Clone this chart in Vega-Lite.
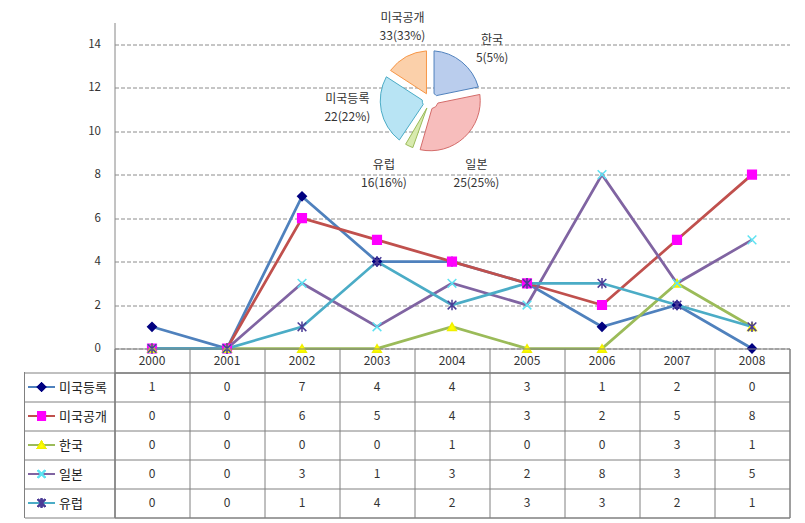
{
  "$schema": "https://vega.github.io/schema/vega-lite/v6.json",
  "background": "white",
  "padding": {"left": 22.5, "top": 11.5, "right": 16.5, "bottom": 5.5},
  "config": {
    "font": "Noto Sans CJK KR",
    "axis": {"labelFont": "Noto Sans CJK KR", "labelColor": "#333333", "title": null},
    "text": {"font": "Noto Sans CJK KR"}
  },
  "datasets": {
    "patents": [
      {"series": "미국등록", "year": 2000, "count": 1},
      {"series": "미국등록", "year": 2001, "count": 0},
      {"series": "미국등록", "year": 2002, "count": 7},
      {"series": "미국등록", "year": 2003, "count": 4},
      {"series": "미국등록", "year": 2004, "count": 4},
      {"series": "미국등록", "year": 2005, "count": 3},
      {"series": "미국등록", "year": 2006, "count": 1},
      {"series": "미국등록", "year": 2007, "count": 2},
      {"series": "미국등록", "year": 2008, "count": 0},
      {"series": "미국공개", "year": 2000, "count": 0},
      {"series": "미국공개", "year": 2001, "count": 0},
      {"series": "미국공개", "year": 2002, "count": 6},
      {"series": "미국공개", "year": 2003, "count": 5},
      {"series": "미국공개", "year": 2004, "count": 4},
      {"series": "미국공개", "year": 2005, "count": 3},
      {"series": "미국공개", "year": 2006, "count": 2},
      {"series": "미국공개", "year": 2007, "count": 5},
      {"series": "미국공개", "year": 2008, "count": 8},
      {"series": "한국", "year": 2000, "count": 0},
      {"series": "한국", "year": 2001, "count": 0},
      {"series": "한국", "year": 2002, "count": 0},
      {"series": "한국", "year": 2003, "count": 0},
      {"series": "한국", "year": 2004, "count": 1},
      {"series": "한국", "year": 2005, "count": 0},
      {"series": "한국", "year": 2006, "count": 0},
      {"series": "한국", "year": 2007, "count": 3},
      {"series": "한국", "year": 2008, "count": 1},
      {"series": "일본", "year": 2000, "count": 0},
      {"series": "일본", "year": 2001, "count": 0},
      {"series": "일본", "year": 2002, "count": 3},
      {"series": "일본", "year": 2003, "count": 1},
      {"series": "일본", "year": 2004, "count": 3},
      {"series": "일본", "year": 2005, "count": 2},
      {"series": "일본", "year": 2006, "count": 8},
      {"series": "일본", "year": 2007, "count": 3},
      {"series": "일본", "year": 2008, "count": 5},
      {"series": "유럽", "year": 2000, "count": 0},
      {"series": "유럽", "year": 2001, "count": 0},
      {"series": "유럽", "year": 2002, "count": 1},
      {"series": "유럽", "year": 2003, "count": 4},
      {"series": "유럽", "year": 2004, "count": 2},
      {"series": "유럽", "year": 2005, "count": 3},
      {"series": "유럽", "year": 2006, "count": 3},
      {"series": "유럽", "year": 2007, "count": 2},
      {"series": "유럽", "year": 2008, "count": 1}
    ],
    "pie": [
      {"series": "미국등록", "total": 22, "tag": "한국\n5(5%)"},
      {"series": "미국공개", "total": 33, "tag": "일본\n25(25%)"},
      {"series": "한국", "total": 5, "tag": "유럽\n16(16%)"},
      {"series": "일본", "total": 25, "tag": "미국등록\n22(22%)"},
      {"series": "유럽", "total": 16, "tag": "미국공개\n33(33%)"}
    ]
  },
  "spacing": 0,
  "bounds": "flush",
  "vconcat": [
    {
      "width": 675,
      "height": 326,
      "view": {"stroke": null},
      "layer": [
        {
          "data": {"name": "patents"},
          "mark": {"type": "line", "strokeWidth": 2.75},
          "encoding": {
            "x": {"field": "year", "type": "quantitative", "scale": {"domain": [1999.5, 2008.5], "nice": false, "zero": false}, "axis": null},
            "y": {"field": "count", "type": "quantitative", "scale": {"domain": [0, 15], "nice": false, "zero": false},
              "axis": {"values": [0, 2, 4, 6, 8, 10, 12, 14], "grid": true, "gridDash": [4, 2], "gridColor": "#8c8c8c", "domainColor": "#868686", "ticks": false, "labelPadding": 14, "labelFontSize": 11.5, "title": null}},
            "color": {"field": "series", "type": "nominal", "legend": null,
              "scale": {"domain": ["미국등록", "미국공개", "한국", "일본", "유럽"], "range": ["#4F81BD", "#C0504D", "#9BBB59", "#8064A2", "#4BACC6"]}}
          }
        },
        {
          "data": {"name": "patents"},
          "mark": {"type": "point", "size": 75, "strokeWidth": 1.5, "opacity": 1},
          "encoding": {
            "x": {"field": "year", "type": "quantitative", "axis": null},
            "y": {"field": "count", "type": "quantitative", "title": null},
            "shape": {"field": "series", "type": "nominal", "legend": null,
              "scale": {"domain": ["미국등록", "미국공개", "한국", "일본", "유럽"], "range": ["diamond", "square", "triangle-up", "M-1,-1L1,1M-1,1L1,-1", "M0,-1.2L0,1.2M-1,-1L1,1M-1,1L1,-1"]}},
            "fill": {"field": "series", "type": "nominal", "legend": null,
              "scale": {"domain": ["미국등록", "미국공개", "한국", "일본", "유럽"], "range": ["#000080", "#FF00FF", "#FFFF00", "transparent", "transparent"]}},
            "stroke": {"field": "series", "type": "nominal", "legend": null,
              "scale": {"domain": ["미국등록", "미국공개", "한국", "일본", "유럽"], "range": ["#000080", "#FF00FF", "#F0F000", "#5EE3F2", "#4B3C96"]}}
          }
        },
        {
          "data": {"name": "pie"},
          "transform": [{"window": [{"op": "row_number", "as": "rank"}]}],
          "mark": {"type": "arc", "outerRadius": 50, "innerRadius": 8, "padAngle": 0.15, "strokeWidth": 1},
          "encoding": {
            "x": {"datum": 2003.71, "type": "quantitative", "axis": null},
            "y": {"datum": 11.4, "type": "quantitative", "title": null},
            "theta": {"field": "total", "type": "quantitative", "stack": true},
            "order": {"field": "rank", "type": "quantitative"},
            "fill": {"field": "series", "type": "nominal", "legend": null,
              "scale": {"domain": ["미국등록", "미국공개", "한국", "일본", "유럽"], "range": ["#BACDED", "#F7BDBC", "#D8EAAE", "#B8E4F4", "#FBD0AA"]}},
            "stroke": {"field": "series", "type": "nominal", "legend": null,
              "scale": {"domain": ["미국등록", "미국공개", "한국", "일본", "유럽"], "range": ["#4F81BD", "#D46C6A", "#9BBB59", "#4BACC6", "#F79646"]}}
          }
        },
        {
          "data": {"name": "pie"},
          "transform": [{"window": [{"op": "row_number", "as": "rank"}]}],
          "mark": {"type": "text", "radius": 83, "dy": -5, "fontSize": 12, "lineBreak": "\n", "lineHeight": 18, "color": "#333333"},
          "encoding": {
            "x": {"datum": 2003.71, "type": "quantitative", "axis": null},
            "y": {"datum": 11.4, "type": "quantitative", "title": null},
            "theta": {"field": "total", "type": "quantitative", "stack": true, "scale": {"range": [0.157, 6.44]}},
            "order": {"field": "rank", "type": "quantitative"},
            "text": {"field": "tag", "type": "nominal"}
          }
        }
      ],
      "resolve": {"scale": {"fill": "independent", "stroke": "independent", "color": "independent", "shape": "independent", "theta": "independent"}}
    },
    {
      "width": 675,
      "height": 24,
      "view": {"stroke": "#808080"},
      "data": {"name": "patents"},
      "transform": [{"aggregate": [{"op": "count", "as": "n"}], "groupby": ["year"]}],
      "mark": {"type": "text", "fontSize": 12, "color": "#333333"},
      "encoding": {
        "x": {"field": "year", "type": "quantitative", "scale": {"domain": [1999.5, 2008.5], "nice": false, "zero": false},
          "axis": {"values": [1999.5, 2000.5, 2001.5, 2002.5, 2003.5, 2004.5, 2005.5, 2006.5, 2007.5, 2008.5], "grid": true, "gridColor": "#808080", "labels": false, "ticks": false, "domain": false, "title": null}},
        "text": {"field": "year", "type": "quantitative", "format": "d"}
      }
    },
    {
      "width": 675,
      "height": 145,
      "view": {"stroke": "#808080"},
      "data": {"name": "patents"},
      "layer": [
        {
          "mark": {"type": "text", "fontSize": 12, "color": "#333333"},
          "encoding": {
            "x": {"field": "year", "type": "quantitative", "scale": {"domain": [1999.5, 2008.5], "nice": false, "zero": false},
              "axis": {"values": [1999.5, 2000.5, 2001.5, 2002.5, 2003.5, 2004.5, 2005.5, 2006.5, 2007.5, 2008.5], "grid": true, "gridColor": "#808080", "labels": false, "ticks": false, "domain": false, "title": null}},
            "y": {"field": "series", "type": "nominal", "sort": ["미국등록", "미국공개", "한국", "일본", "유럽"],
              "scale": {"type": "band", "domain": ["미국등록", "미국공개", "한국", "일본", "유럽"], "paddingInner": 0, "paddingOuter": 0},
              "axis": {"tickBand": "extent", "tickSize": 90, "tickColor": "#808080", "grid": true, "gridColor": "#808080", "domainColor": "#808080", "labelAlign": "left", "labelPadding": -34, "labelFontSize": 13, "labelColor": "#222222", "title": null}},
            "text": {"field": "count", "type": "quantitative", "format": "d"}
          }
        },
        {
          "mark": {"type": "rule", "color": "#808080", "strokeWidth": 1},
          "encoding": {
            "x": {"datum": 1998.3, "type": "quantitative", "title": null}
          }
        },
        {
          "mark": {"type": "rule", "strokeWidth": 2},
          "encoding": {
            "x": {"datum": 1998.353, "type": "quantitative", "title": null},
            "x2": {"datum": 1998.7},
            "y": {"field": "series", "type": "nominal", "scale": {"type": "band"}, "title": null},
            "color": {"field": "series", "type": "nominal", "legend": null,
              "scale": {"domain": ["미국등록", "미국공개", "한국", "일본", "유럽"], "range": ["#4F81BD", "#C0504D", "#9BBB59", "#8064A2", "#4BACC6"]}}
          }
        },
        {
          "mark": {"type": "point", "size": 56, "strokeWidth": 1.5, "opacity": 1},
          "encoding": {
            "x": {"datum": 1998.527, "type": "quantitative", "title": null},
            "y": {"field": "series", "type": "nominal", "scale": {"type": "band"}, "title": null},
            "shape": {"field": "series", "type": "nominal", "legend": null,
              "scale": {"domain": ["미국등록", "미국공개", "한국", "일본", "유럽"], "range": ["diamond", "square", "triangle-up", "M-1,-1L1,1M-1,1L1,-1", "M0,-1.2L0,1.2M-1,-1L1,1M-1,1L1,-1"]}},
            "fill": {"field": "series", "type": "nominal", "legend": null,
              "scale": {"domain": ["미국등록", "미국공개", "한국", "일본", "유럽"], "range": ["#000080", "#FF00FF", "#FFFF00", "transparent", "transparent"]}},
            "stroke": {"field": "series", "type": "nominal", "legend": null,
              "scale": {"domain": ["미국등록", "미국공개", "한국", "일본", "유럽"], "range": ["#000080", "#FF00FF", "#F0F000", "#5EE3F2", "#4B3C96"]}}
          }
        }
      ]
    }
  ]
}
